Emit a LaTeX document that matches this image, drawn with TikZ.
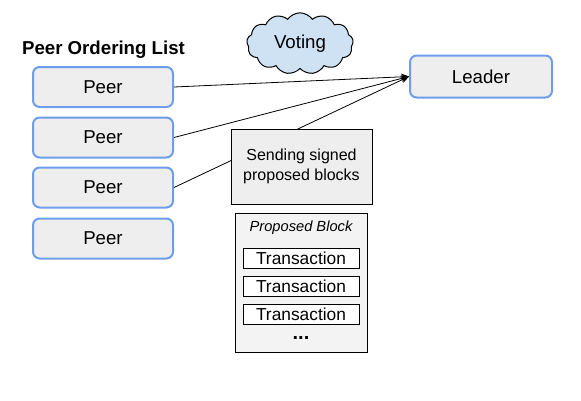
\documentclass[tikz,border=0pt]{standalone}
\usepackage{fontspec}
\setmainfont{Liberation Sans}
\usetikzlibrary{arrows.meta,shapes.symbols}
\definecolor{peerblue}{HTML}{6D9EEB}
\definecolor{boxgray}{HTML}{EEEEEE}
\definecolor{blockgray}{HTML}{F3F3F3}
\definecolor{cloudblue}{HTML}{CFE2F3}
\tikzset{
  peerbox/.style={draw=peerblue, line width=1.5pt, fill=boxgray, rounded corners=5pt,
    minimum width=105pt, minimum height=30pt, inner sep=0pt, font=\fontsize{14pt}{16pt}\selectfont},
  sendbox/.style={draw=black, line width=0.75pt, fill=boxgray, minimum width=105.75pt,
    minimum height=56.25pt, inner sep=0pt, align=center, font=\fontsize{12pt}{14.5pt}\selectfont},
  blockbox/.style={draw=black, line width=0.75pt, fill=blockgray, minimum width=99pt,
    minimum height=104.25pt, inner sep=0pt},
  txbox/.style={draw=black, line width=0.75pt, fill=white, minimum width=87pt,
    minimum height=15pt, inner sep=0pt, font=\fontsize{13pt}{15pt}\selectfont},
  conn/.style={draw=black, line width=0.6pt, -{Stealth[length=6pt,width=5pt]}},
}
\begin{document}
\begin{tikzpicture}[x=0.75pt,y=-0.75pt]
\useasboundingbox (0,0) rectangle (581,400);
\node[font=\bfseries\fontsize{14pt}{16pt}\selectfont] (title) at (103.5,50) {Peer Ordering List};
\node[peerbox] (p1) at (103,87) {Peer};
\node[peerbox] (p2) at (103,137.5) {Peer};
\node[peerbox] (p3) at (103,187.5) {Peer};
\node[peerbox] (p4) at (103,238.5) {Peer};
\node[peerbox, minimum width=106.5pt, minimum height=31.5pt] (leader) at (481,76.5) {Leader};
\node[cloud, cloud puffs=13, cloud puff arc=110, aspect=1.7, draw=black, line width=0.75pt,
  fill=cloudblue, minimum width=80pt, minimum height=46pt, inner sep=0pt,
  font=\fontsize{14pt}{16pt}\selectfont] (voting) at (300,43.5) {Voting};
\draw[conn] (p1.east) -- (leader.west);
\draw[conn] (p2.east) -- (leader.west);
\draw[conn] (p3.east) -- (leader.west);
\node[sendbox] (send) at (301.5,166.5) {Sending signed\\proposed blocks};
\node[blockbox] (block) at (301,282.5) {};
\node[font=\itshape\fontsize{11pt}{13pt}\selectfont] (ptitle) at (301,228) {Proposed Block};
\node[txbox] (t1) at (301,258) {Transaction};
\node[txbox] (t2) at (301,286.5) {Transaction};
\node[txbox] (t3) at (301,314.5) {Transaction};
\node[font=\bfseries\fontsize{15pt}{17pt}\selectfont] (dots) at (301,338) {...};
\end{tikzpicture}
\end{document}
